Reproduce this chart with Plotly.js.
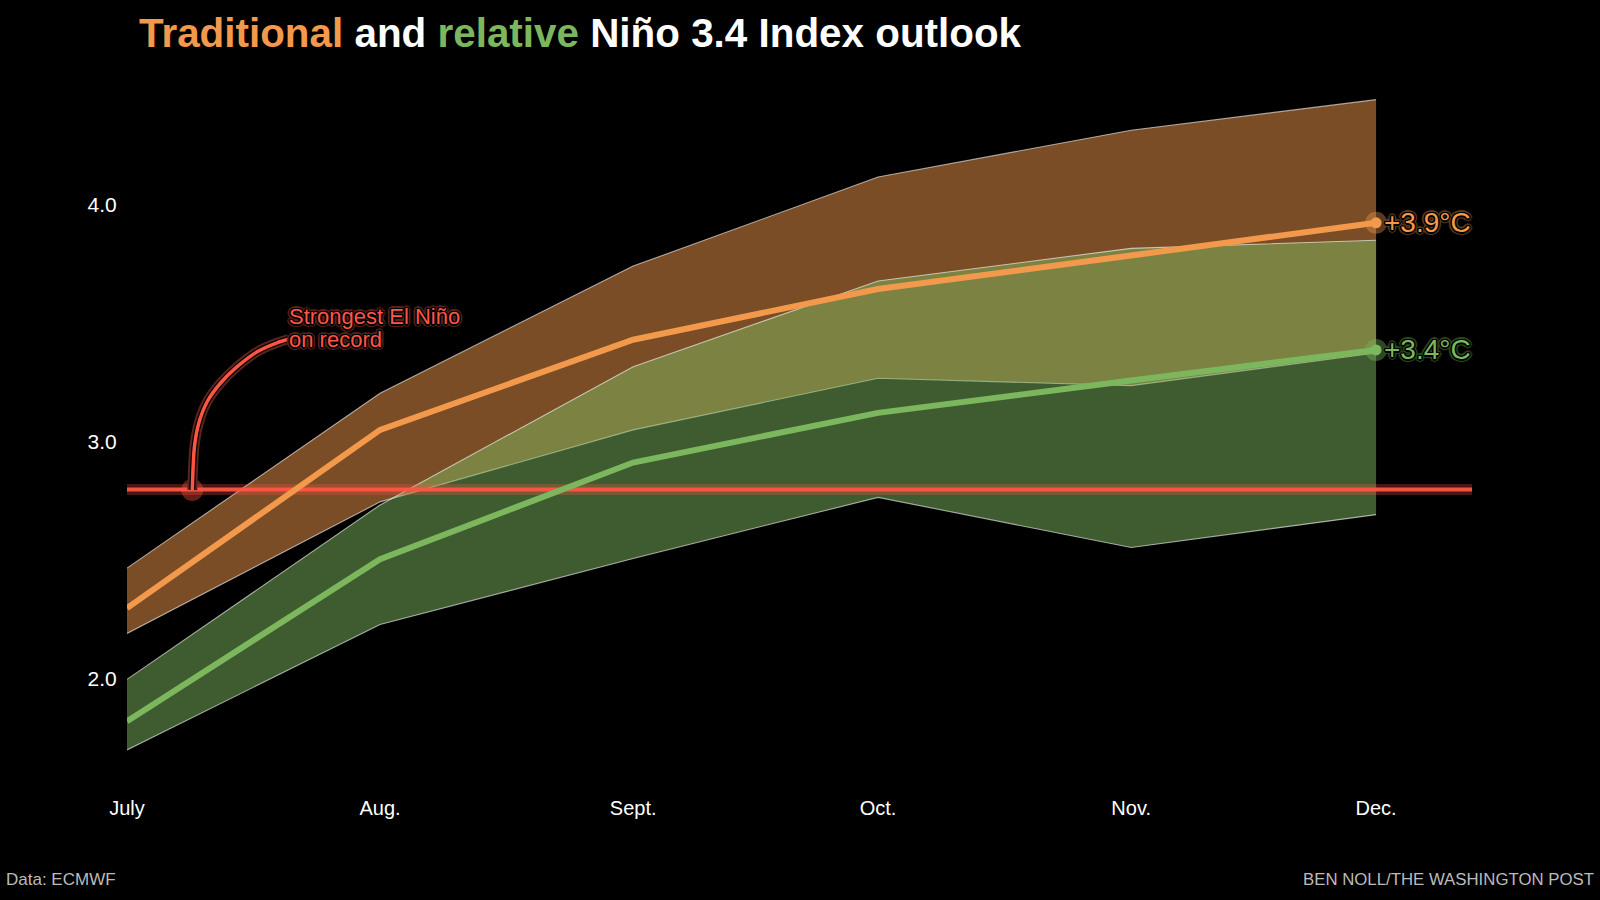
<!DOCTYPE html>
<html><head><meta charset="utf-8">
<script src="https://cdn.plot.ly/plotly-3.0.1.min.js"></script>
<style>html,body{margin:0;padding:0;background:#000}#c{width:1600px;height:900px}</style>
</head><body><div id="c"></div>
<script>
const months=["2023-07-01","2023-08-01","2023-09-01","2023-10-01","2023-11-01","2023-12-01"];
const monthLabels=["July","Aug.","Sept.","Oct.","Nov.","Dec."];
const tradUpper=[2.466,3.205,3.742,4.118,4.316,4.445];
const tradLower=[2.19,2.746,3.05,3.268,3.237,3.375];
const tradMean=[2.297,3.05,3.431,3.645,3.787,3.925];
const relUpper=[1.996,2.733,3.317,3.679,3.817,3.851];
const relLower=[1.698,2.228,2.507,2.765,2.553,2.692];
const relMean=[1.819,2.504,2.912,3.122,3.259,3.388];
const recordValue=2.798;
const recordSpan=["2023-07-01","2023-12-13"];
const leaderX=["2023-07-09 00:00","2023-07-09 06:15","2023-07-09 19:00","2023-07-10 19:40","2023-07-12 10:30","2023-07-14 11:45","2023-07-16 22:30","2023-07-19 09:00","2023-07-20 19:00"];
const leaderY=[2.796,2.979,3.078,3.169,3.247,3.317,3.38,3.418,3.433];
const yTicks=[2,3,4];

const ORANGE="#f3994b",GREEN="#7cb75e",RED="#ff5545";
const edge={color:"rgba(255,255,255,0.6)",width:1.1};
const line=(x,y,color,width,opacity,shape)=>({x,y,mode:"lines",line:{color,width,shape:shape||"linear",smoothing:0.8},opacity:opacity??1,hoverinfo:"skip",showlegend:false});
const band=(up,lo,fill)=>[
 {x:months,y:up,mode:"lines",line:edge,hoverinfo:"skip",showlegend:false},
 {x:months,y:lo,mode:"lines",line:edge,fill:"tonexty",fillcolor:fill,hoverinfo:"skip",showlegend:false}];
const dot=(x,y,color,size,opacity)=>({x:[x],y:[y],mode:"markers",marker:{color,size,line:{width:0}},opacity,hoverinfo:"skip",showlegend:false,cliponaxis:false});
const last=months[5];
const data=[
 ...band(tradUpper,tradLower,"rgba(243,153,75,0.5)"),
 ...band(relUpper,relLower,"rgba(124,183,94,0.5)"),
 line(recordSpan,[recordValue,recordValue],RED,11,0.28),
 line(recordSpan,[recordValue,recordValue],RED,4,0.95),
 line(months,tradMean,ORANGE,6),
 line(months,relMean,GREEN,6),
 dot(last,tradMean[5],ORANGE,22,0.38),dot(last,tradMean[5],ORANGE,11,1),
 dot(last,relMean[5],GREEN,22,0.38),dot(last,relMean[5],GREEN,11,1),
 dot(leaderX[0],leaderY[0],RED,22,0.38),
 line(leaderX,leaderY,"#5a241e",10,1,"spline"),
 line(leaderX,leaderY,"#000",6,1,"spline"),
 line(leaderX,leaderY,RED,3.5,1,"spline")
];
const dirs=[[1,0],[-1,0],[0,1],[0,-1],[.7,.7],[-.7,.7],[.7,-.7],[-.7,-.7]];
const halo=c=>dirs.map(([a,b])=>`${a*1.5}px ${b*1.5}px 0.5px #000`).concat(dirs.map(([a,b])=>`${a*3}px ${b*3}px 1px ${c}`)).join(",");
const SANS="Liberation Sans, Arial, sans-serif";
const valueNote=(y,t,c,h)=>({x:last,y,xref:"x",yref:"y",text:t,showarrow:false,xanchor:"left",yanchor:"middle",xshift:6,font:{family:SANS,size:28,color:c,shadow:halo(h)}});
const recordNote=(y,t)=>({x:leaderX[8],y,xref:"x",yref:"y",text:t,showarrow:false,xanchor:"left",yanchor:"middle",xshift:-2,font:{family:SANS,size:22,color:RED,shadow:halo("#5a241e")}});
const plotL=126.5,plotR=1472.5,plotW=plotR-plotL,plotT=60,plotB=780;
const layout={
 width:1600,height:900,paper_bgcolor:"#000",plot_bgcolor:"#000",showlegend:false,
 margin:{l:plotL,r:1600-plotR,t:plotT,b:900-plotB,pad:0},
 title:{text:`<b><span style="color:${ORANGE}">Traditional</span> and <span style="color:${GREEN}">relative</span> Niño 3.4 Index outlook</b>`,
  xref:"container",yref:"container",x:139/1600,xanchor:"left",y:1-33/900,yanchor:"middle",font:{family:SANS,size:40.4,color:"#fff"}},
 xaxis:{type:"date",range:["2023-07-01","2023-12-12 18:00"],tickvals:months,ticktext:monthLabels,showgrid:false,zeroline:false,showline:false,
  ticks:"outside",ticklen:10,tickcolor:"rgba(0,0,0,0)",tickfont:{family:SANS,size:20,color:"#fff"}},
 yaxis:{range:[1.571,4.6126],tickvals:yTicks,tickformat:".1f",showgrid:false,zeroline:false,showline:false,
  ticks:"outside",ticklen:5,tickcolor:"rgba(0,0,0,0)",tickfont:{family:SANS,size:21,color:"#fff"}},
 annotations:[
  valueNote(tradMean[5],"+3.9°C",ORANGE,"#5c3d1f"),
  valueNote(relMean[5],"+3.4°C",GREEN,"#2f4a26"),
  recordNote(3.53,"Strongest El Niño"),
  recordNote(3.431,"on record"),
  {x:(3-plotL)/plotW,y:-(879-plotB)/(plotB-plotT),xref:"paper",yref:"paper",yanchor:"middle",xanchor:"left",showarrow:false,text:"Data: ECMWF",font:{family:SANS,size:17,color:"#bbb"}},
  {x:(1597-plotL)/plotW,y:-(879-plotB)/(plotB-plotT),xref:"paper",yref:"paper",yanchor:"middle",xanchor:"right",showarrow:false,text:"BEN NOLL/THE WASHINGTON POST",font:{family:SANS,size:16.8,color:"#bbb"}}
 ]
};
Plotly.newPlot("c",data,layout,{displayModeBar:false,staticPlot:true});
</script></body></html>
